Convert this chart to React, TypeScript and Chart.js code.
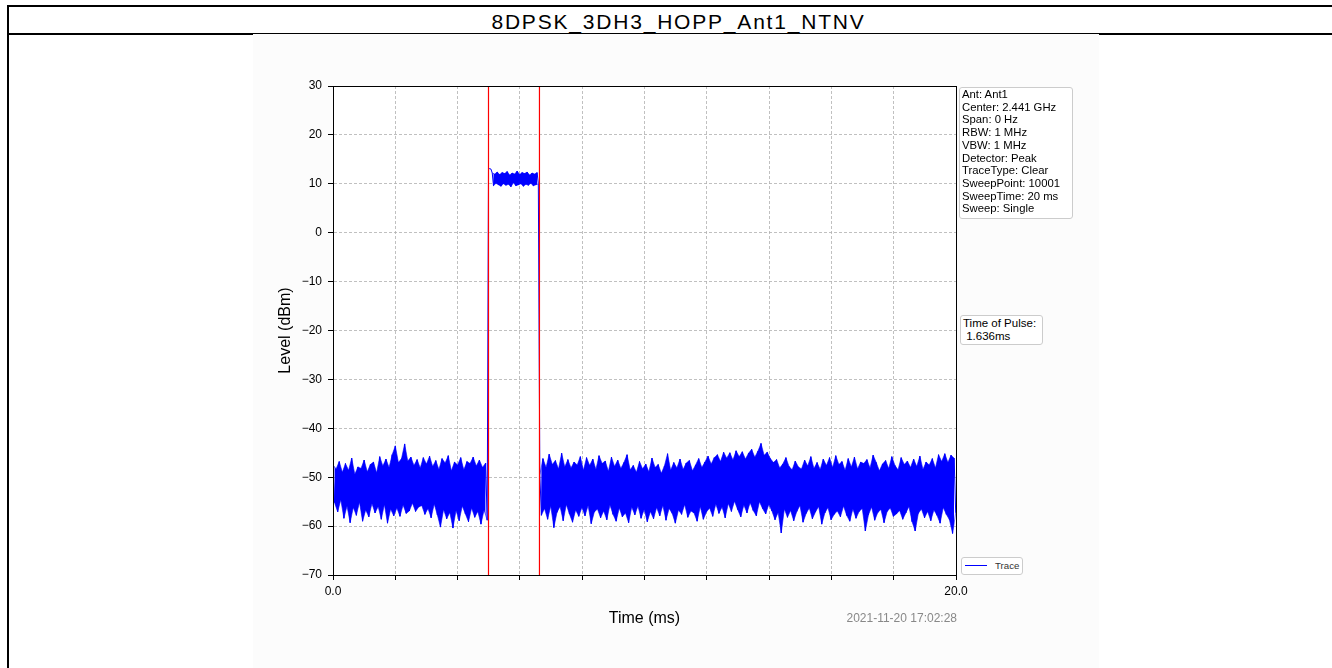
import React, { useEffect, useRef } from "react";
import { Chart, registerables } from "chart.js";

Chart.register(...registerables);

const chartTitle = "8DPSK_3DH3_HOPP_Ant1_NTNV";
const xAxisTitle = "Time (ms)";
const yAxisTitle = "Level (dBm)";
const timeRange = [0, 20];
const levelRange = [-70, 30];
const xTickStep = 2;
const yTickStep = 10;
const xTickLabels = ["0.0", "20.0"];

const infoLines = [
  "Ant: Ant1",
  "Center: 2.441 GHz",
  "Span: 0 Hz",
  "RBW: 1 MHz",
  "VBW: 1 MHz",
  "Detector: Peak",
  "TraceType: Clear",
  "SweepPoint: 10001",
  "SweepTime: 20 ms",
  "Sweep: Single",
];
const pulseLines = ["Time of Pulse:", " 1.636ms"];
const timestamp = "2021-11-20 17:02:28";
const traceLabel = "Trace";

// pulse marker lines (ms)
const markerTimes = [4.992, 6.628];

// sweep sampling of the trace (ms)
const noiseStep = 0.05;
const pulseStart = 4.992;
const pulseStep = 0.04;
const afterStart = 6.64;
const pulseFlatCount = 3; // first pulse samples sit on the 13 dBm step

// dBm, t = 0 .. 4.95 ms (alternating local peak / local dip)
const noiseBefore = [
  -47.5, -55.2, -48.3, -57.1, -46.8, -54.6, -49.0, -58.4, -47.2, -55.9,
  -48.6, -59.3, -46.1, -56.2, -49.4, -57.8, -47.9, -55.1, -48.2, -59.0,
  -46.5, -56.7, -48.9, -58.1, -47.4, -55.4, -46.9, -57.3, -49.1, -56.0,
  -45.8, -58.6, -47.7, -55.6, -46.3, -59.4, -48.0, -56.5, -45.4, -57.9,
  -43.6, -56.3, -47.0, -58.0, -46.2, -55.7, -43.2, -57.4, -46.7, -56.9,
  -45.9, -55.3, -47.6, -57.0, -46.4, -56.1, -48.1, -55.8, -46.0, -57.6,
  -47.3, -56.4, -45.7, -58.3, -47.8, -55.5, -46.6, -57.7, -48.4, -60.2,
  -46.2, -56.6, -47.1, -58.5, -45.6, -57.2, -48.7, -60.4, -46.9, -56.8,
  -47.5, -58.9, -46.0, -55.9, -48.5, -57.5, -46.8, -59.1, -47.2, -56.3,
  -45.9, -58.2, -47.7, -57.0, -46.5, -59.6, -48.0, -56.7, -47.1, -58.8,
];

// dBm, t = 4.99 .. 6.60 ms
const pulseLevels = [
  13.1, 13.1, 13.0,
  12.2, 9.6, 12.0, 10.1, 12.4, 9.8, 11.9, 9.5, 12.3, 10.0,
  12.1, 9.7, 12.5, 9.9, 11.8, 9.4, 12.2, 10.2, 12.0, 9.6,
  12.6, 9.8, 11.9, 10.0, 12.3, 9.5, 12.1, 9.9, 12.4, 9.7,
  11.8, 10.1, 12.2, 9.6, 12.0, 9.8, 12.3, 10.0,
];

// dBm, t = 6.64 .. 19.99 ms (alternating local peak / local dip)
const noiseAfter = [
  -49.5, -57.8, -46.2, -56.4, -48.0, -58.6, -45.3, -55.9, -47.4, -60.3,
  -46.6, -57.2, -48.3, -56.0, -45.1, -58.9, -47.9, -55.6, -46.4, -57.5,
  -48.1, -59.2, -46.9, -56.7, -47.5, -58.0, -45.8, -56.2, -48.6, -57.9,
  -46.0, -55.8, -47.6, -59.5, -46.3, -57.1, -48.4, -56.5, -45.6, -58.3,
  -47.2, -56.9, -46.7, -58.7, -48.8, -55.7, -45.9, -57.6, -47.8, -59.0,
  -46.5, -56.3, -48.2, -58.1, -47.0, -57.3, -45.4, -59.3, -48.5, -56.1,
  -47.6, -57.7, -49.0, -55.9, -46.8, -58.4, -48.3, -56.6, -47.3, -59.1,
  -48.9, -57.0, -46.1, -58.5, -48.0, -56.2, -47.4, -57.9, -49.2, -55.8,
  -47.7, -58.8, -45.2, -56.4, -48.6, -57.4, -47.0, -59.4, -48.1, -56.7,
  -46.3, -57.6, -48.4, -55.6, -47.1, -58.2, -46.6, -56.9, -48.7, -57.3,
  -47.5, -59.0, -46.2, -56.0, -48.0, -58.6, -46.9, -57.1, -45.7, -56.3,
  -47.3, -58.0, -46.0, -55.5, -45.4, -57.4, -46.8, -56.1, -44.9, -58.3,
  -46.1, -55.4, -45.0, -57.0, -46.5, -54.9, -44.6, -56.6, -45.8, -58.1,
  -44.8, -55.7, -46.3, -57.3, -45.1, -55.2, -44.3, -56.8, -45.9, -57.9,
  -44.7, -55.0, -43.1, -56.4, -45.5, -57.5, -44.9, -55.6, -46.2, -56.9,
  -47.0, -58.7, -46.4, -57.2, -48.1, -61.4, -47.3, -56.5, -46.0, -58.2,
  -47.8, -56.8, -48.5, -58.9, -46.7, -57.0, -47.9, -55.8, -48.3, -59.2,
  -46.5, -57.4, -47.7, -56.3, -45.8, -58.5, -48.2, -57.1, -47.0, -56.0,
  -48.4, -59.6, -46.3, -57.3, -47.6, -56.2, -46.0, -58.7, -48.0, -57.6,
  -45.6, -56.9, -47.4, -58.1, -46.8, -55.9, -48.6, -57.8, -46.2, -59.0,
  -47.9, -56.5, -45.9, -58.4, -48.3, -57.0, -46.9, -56.4, -47.2, -61.0,
  -46.4, -57.7, -48.1, -56.1, -45.5, -58.8, -47.0, -57.2, -48.7, -56.6,
  -47.3, -59.3, -46.6, -57.0, -48.2, -56.3, -45.8, -58.0, -47.6, -57.5,
  -48.5, -56.8, -46.0, -58.6, -47.4, -57.3, -46.7, -56.0, -48.0, -59.1,
  -46.3, -61.0, -47.8, -57.4, -45.7, -56.5, -48.4, -58.3, -46.9, -57.0,
  -47.5, -58.9, -46.2, -56.7, -48.1, -57.8, -45.4, -59.4, -46.8, -56.2,
  -45.2, -57.6, -47.0, -58.7, -45.5, -61.5, -46.1, -57.3,
];

const FONT = '"Liberation Sans", Arial, Helvetica, sans-serif';
const TRACE_COLOR = "#0000ff";

const fmtLevel = (v: number) => (v < 0 ? "\u2212" + Math.abs(v) : String(v));

const framePlugin = {
  id: "frame",
  beforeDraw(chart: any) {
    const { ctx, chartArea: a } = chart;
    ctx.save();
    ctx.fillStyle = "#ffffff";
    ctx.fillRect(a.left, a.top, a.right - a.left, a.bottom - a.top);
    ctx.restore();
  },
  afterDraw(chart: any) {
    const { ctx, chartArea: a } = chart;
    ctx.save();
    ctx.strokeStyle = "#000";
    ctx.lineWidth = 1;
    ctx.strokeRect(
      Math.round(a.left) + 0.5,
      Math.round(a.top) + 0.5,
      Math.round(a.right - a.left),
      Math.round(a.bottom - a.top)
    );
    ctx.restore();
  },
};

type Pt = { x: number; y: number };

// solid body of the trace: area between the local peaks and the local dips
function envelopeBand(name: string, pts: Pt[]) {
  const peaks = pts.filter((_, i) => i % 2 === 0);
  const dips = pts.filter((_, i) => i % 2 === 1);
  return [
    {
      label: name + "-peaks",
      data: peaks,
      borderWidth: 0.6,
      borderColor: TRACE_COLOR,
      backgroundColor: TRACE_COLOR,
      pointRadius: 0,
      tension: 0,
      fill: "+1",
      order: 2,
    },
    {
      label: name + "-dips",
      data: dips,
      borderWidth: 0.6,
      borderColor: TRACE_COLOR,
      backgroundColor: TRACE_COLOR,
      pointRadius: 0,
      tension: 0,
      fill: false,
      order: 2,
    },
  ];
}

export default function App() {
  const canvasRef = useRef<HTMLCanvasElement | null>(null);

  useEffect(() => {
    if (!canvasRef.current) return;
    const before = noiseBefore.map((y, i) => ({ x: i * noiseStep, y }));
    const pulse = pulseLevels.map((y, i) => ({ x: pulseStart + i * pulseStep, y }));
    const after = noiseAfter.map((y, i) => ({ x: afterStart + i * noiseStep, y }));
    const trace = [...before, ...pulse, ...after];
    const markers = markerTimes.map((t, i) => ({
      label: "marker" + (i + 1),
      data: [
        { x: t, y: levelRange[0] },
        { x: t, y: levelRange[1] },
      ],
      borderColor: "#ff0000",
      backgroundColor: "#ff0000",
      borderWidth: 1.2,
      pointRadius: 0,
      fill: false,
      order: 0,
    }));
    const chart = new Chart(canvasRef.current, {
      type: "line",
      data: {
        datasets: [
          ...markers,
          {
            label: traceLabel,
            data: trace,
            borderColor: TRACE_COLOR,
            borderWidth: 1,
            pointRadius: 0,
            tension: 0,
            fill: false,
            order: 1,
          },
          ...envelopeBand("before", before),
          ...envelopeBand("pulse", pulse.slice(pulseFlatCount)),
          ...envelopeBand("after", after),
        ],
      },
      options: {
        responsive: false,
        animation: false,
        events: [],
        layout: { padding: { left: 20, right: 143, top: 52, bottom: 36 } },
        plugins: { legend: { display: false }, tooltip: { enabled: false } },
        scales: {
          x: {
            type: "linear",
            min: timeRange[0],
            max: timeRange[1],
            afterFit: (s: any) => {
              s.height = 57;
            },
            ticks: {
              stepSize: xTickStep,
              autoSkip: false,
              maxRotation: 0,
              padding: 4,
              color: "#000",
              font: { family: FONT, size: 12 },
              callback: (v: any) =>
                v === timeRange[0] ? xTickLabels[0] : v === timeRange[1] ? xTickLabels[1] : "",
            },
            grid: { color: "#b0b0b0", lineWidth: 0.8, tickColor: "#000", tickLength: 5, tickWidth: 1 },
            border: { display: true, color: "#000", width: 1, dash: [3, 2] },
            title: {
              display: true,
              text: xAxisTitle,
              color: "#000",
              font: { family: FONT, size: 16 },
              padding: { top: 0, bottom: 4 },
            },
          },
          y: {
            type: "linear",
            min: levelRange[0],
            max: levelRange[1],
            afterFit: (s: any) => {
              s.width = 60;
            },
            ticks: {
              stepSize: yTickStep,
              padding: 6,
              color: "#000",
              font: { family: FONT, size: 12 },
              callback: (v: any) => fmtLevel(Number(v)),
            },
            grid: { color: "#b0b0b0", lineWidth: 0.8, tickColor: "#000", tickLength: 5, tickWidth: 1 },
            border: { display: true, color: "#000", width: 1, dash: [3, 2] },
            title: {
              display: true,
              text: yAxisTitle,
              color: "#000",
              font: { family: FONT, size: 16 },
              padding: { top: 3, bottom: 0 },
            },
          },
        },
      },
      plugins: [framePlugin],
    } as any);
    return () => chart.destroy();
  }, []);

  const boxStyle: React.CSSProperties = {
    position: "absolute",
    boxSizing: "border-box",
    border: "1px solid #cccccc",
    borderRadius: 3,
    background: "#ffffff",
    fontFamily: FONT,
    color: "#000",
    whiteSpace: "pre",
  };

  return (
    <div style={{ position: "absolute", left: 0, top: 0, width: 1332, height: 668, overflow: "hidden", background: "#fff" }}>
      {/* table frame */}
      <div style={{ position: "absolute", left: 7, top: 5, width: 1400, height: 700, borderLeft: "2px solid #000", borderTop: "2px solid #000" }} />
      <div style={{ position: "absolute", left: 7, top: 33, width: 1400, height: 2, background: "#000" }} />
      <div
        style={{
          position: "absolute",
          left: 300,
          top: 9,
          width: 757,
          height: 25,
          lineHeight: "25px",
          textAlign: "center",
          fontFamily: FONT,
          fontSize: 21,
          letterSpacing: "1.8px",
          color: "#000",
        }}
      >
        {chartTitle}
      </div>
      {/* figure */}
      <div style={{ position: "absolute", left: 253, top: 34, width: 846, height: 634, background: "#fcfcfc" }}>
        <canvas ref={canvasRef} width={846} height={634} style={{ display: "block", width: 846, height: 634 }} />
      </div>
      {/* info box */}
      <div style={{ ...boxStyle, left: 959, top: 87, width: 114, height: 132, paddingLeft: 2, fontSize: 11.3, lineHeight: "12.7px" }}>
        {infoLines.map((l) => (
          <div key={l}>{l}</div>
        ))}
      </div>
      {/* pulse box */}
      <div style={{ ...boxStyle, left: 960, top: 315, width: 83, height: 30, paddingLeft: 2, paddingTop: 1, fontSize: 11.5, lineHeight: "12.5px" }}>
        {pulseLines.map((l) => (
          <div key={l}>{l}</div>
        ))}
      </div>
      {/* trace legend */}
      <div style={{ ...boxStyle, left: 961, top: 557, width: 62, height: 18 }}>
        <div style={{ position: "absolute", left: 3, top: 7, width: 22, height: 1.3, background: TRACE_COLOR }} />
        <div style={{ position: "absolute", left: 33, top: 1, fontSize: 9.7, lineHeight: "14px", color: "#333" }}>{traceLabel}</div>
      </div>
      {/* timestamp */}
      <div
        style={{
          position: "absolute",
          left: 757,
          top: 611,
          width: 200,
          textAlign: "right",
          fontFamily: FONT,
          fontSize: 12,
          lineHeight: "14px",
          color: "#888",
        }}
      >
        {timestamp}
      </div>
    </div>
  );
}
